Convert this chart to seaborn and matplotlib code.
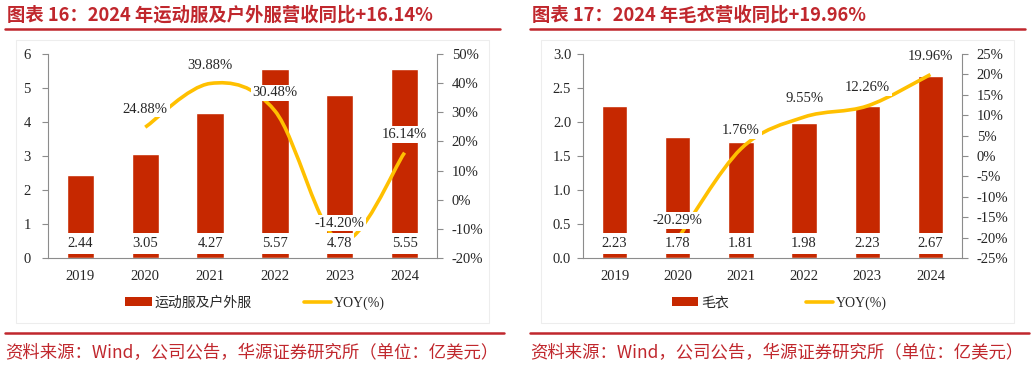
import numpy as np
import seaborn as sns
import matplotlib
matplotlib.use('Agg')
import matplotlib.pyplot as plt
import matplotlib.transforms as mtrans
from matplotlib.path import Path
from matplotlib.patches import PathPatch, Patch, Rectangle
from matplotlib.lines import Line2D

# 数据
years = ['2019', '2020', '2021', '2022', '2023', '2024']

sport_rev = [2.44, 3.05, 4.27, 5.57, 4.78, 5.55]
sport_labels = ['2.44', '3.05', '4.27', '5.57', '4.78', '5.55']
sport_yoy = [None, 24.88, 39.88, 30.48, -14.20, 16.14]

sweater_rev = [2.23, 1.78, 1.71, 1.98, 2.23, 2.67]
sweater_labels = ['2.23', '1.78', '1.81', '1.98', '2.23', '2.67']
sweater_yoy = [-20.29, 1.76, 9.55, 12.26, 19.96]
sweater_yoy_years = ['2020', '2021', '2022', '2023', '2024']

BAR = '#C62800'
GOLD = '#FFC000'
RED = '#C0272D'
TXT = '#262626'

sns.set_theme(style='white')
plt.rcParams['font.family'] = ['Liberation Serif', 'Noto Sans CJK SC']
plt.rcParams['axes.unicode_minus'] = False

W, H = 1031, 366
fig = plt.figure(figsize=(W / 100, H / 100), dpi=100)


def fx(px):
    return px / W


def fy(py):
    return 1 - py / H


def smooth_path(xs, ys, t=1 / 6):
    # Excel 风格平滑线（Catmull-Rom -> Bezier）
    pts = np.column_stack([xs, ys]).astype(float)
    n = len(pts)
    verts = [pts[0]]
    codes = [Path.MOVETO]
    for i in range(n - 1):
        p0 = pts[i - 1] if i > 0 else pts[i]
        p1, p2 = pts[i], pts[i + 1]
        p3 = pts[i + 2] if i + 2 < n else p2
        verts += [p1 + (p2 - p0) * t, p2 - (p3 - p1) * t, p2]
        codes += [Path.CURVE4] * 3
    return Path(verts, codes)


def panel(x0, x1, title, rev, rev_labels, yoy_x, yoy, ylim, yticks, yfmt,
          y2lim, y2ticks, bar_w, legend_name, leg_cx, colspace, frame, ypad):
    # 外框
    fig.add_artist(Rectangle((fx(frame[0]), fy(323)), fx(frame[1] - frame[0]),
                             (323 - 40) / H, transform=fig.transFigure,
                             fill=False, ec='#EDEDED', lw=0.8))
    # 标题与红线
    fig.text(fx(frame[0] - 9), fy(15), title, color=RED, fontsize=13.2,
             fontweight='bold', family=['Noto Sans CJK SC'], va='center')
    fig.add_artist(Line2D([fx(frame[0] - 11), fx(frame[0] + 484)], [fy(29), fy(29)],
                          transform=fig.transFigure, color=RED, lw=1.8))

    ax = fig.add_axes([fx(x0), fy(258), fx(x1 - x0), 204 / H])
    sns.barplot(x=years, y=rev, color=BAR, saturation=1, width=bar_w, ax=ax)
    ax.set_xlim(-0.5, 5.5)
    ax.set_ylim(*ylim)
    ax.set_yticks(yticks)
    ax.set_yticklabels([yfmt.format(v) for v in yticks])
    ax.set_xlabel('')
    ax.set_ylabel('')
    ax.set_xticks(range(6))
    ax.set_xticks(np.arange(-0.5, 6, 1), minor=True)
    ax.tick_params(axis='x', which='major', length=0, pad=9, labelsize=10.5, labelcolor=TXT)
    ax.tick_params(axis='x', which='minor', length=4, width=0.8, color='#8C8C8C', direction='out')
    ax.tick_params(axis='y', length=4, width=0.8, color='#8C8C8C', direction='out',
                   labelsize=10.5, labelcolor=TXT, pad=ypad, left=True)
    for s in ['top', 'right']:
        ax.spines[s].set_visible(False)
    for s in ['left', 'bottom']:
        ax.spines[s].set_color('#8C8C8C')
        ax.spines[s].set_linewidth(0.8)

    ax2 = ax.twinx()
    ax2.set_ylim(*y2lim)
    ax2.set_yticks(y2ticks)
    ax2.set_yticklabels([f'{v}%' for v in y2ticks])
    ax2.tick_params(axis='y', length=4, width=0.8, color='#8C8C8C', direction='out',
                    labelsize=10.5, labelcolor=TXT, pad=6.5, right=True)
    for s in ['top', 'left', 'bottom']:
        ax2.spines[s].set_visible(False)
    ax2.spines['right'].set_color('#8C8C8C')
    ax2.spines['right'].set_linewidth(0.8)
    ax2.grid(False)
    ax.grid(False)

    xi = [years.index(y) for y in yoy_x]
    ax2.add_patch(PathPatch(smooth_path(xi, yoy), fill=False, ec=GOLD, lw=2.6,
                            capstyle='butt', zorder=2))
    for x, v in zip(xi, yoy):
        ax2.annotate(f'{v:.2f}%', xy=(x, v), xytext=(0, 13), textcoords='offset points',
                     ha='center', va='center', fontsize=10.5, color=TXT, zorder=4,
                     bbox=dict(boxstyle='square,pad=0.12', fc='white', ec='none'))
    # 柱底部数据标签（白底）
    blend = mtrans.blended_transform_factory(ax.transData, ax.transAxes)
    for i, lab in enumerate(rev_labels):
        ax2.add_patch(Rectangle((i - bar_w / 2 - 0.01, 4 / 204), bar_w + 0.02, 21 / 204,
                                transform=blend, fc='white', ec='none', zorder=3))
        ax2.annotate(lab, xy=(i, 0), xycoords=ax.transData, xytext=(0, 10.3),
                     textcoords='offset points', ha='center', va='center',
                     fontsize=10.5, color=TXT, zorder=5)

    handles = [Patch(fc=BAR, ec='none'), Line2D([], [], color=GOLD, lw=2.6)]
    fig.legend(handles, [legend_name, 'YOY(%)'], loc='center',
               bbox_to_anchor=(fx(leg_cx), fy(303)), ncol=2, frameon=False,
               handlelength=1.9, handleheight=0.65, handletextpad=0.2,
               columnspacing=colspace,
               prop={'family': ['Liberation Serif', 'Noto Sans CJK SC'], 'size': 10})

    # 底部红线与资料来源
    fig.add_artist(Line2D([fx(frame[0] - 11), fx(frame[0] + 488)], [fy(333), fy(333)],
                          transform=fig.transFigure, color=RED, lw=1.8))
    fig.text(fx(frame[0] - 11), fy(353), '资料来源：Wind，公司公告，华源证券研究所（单位：亿美元）',
             color=RED, fontsize=12.5, family=['Noto Sans CJK SC'], va='center')


panel(48, 437, '图表 16：2024 年运动服及户外服营收同比+16.14%', sport_rev, sport_labels,
      years[1:], sport_yoy[1:], (0, 6), [0, 1, 2, 3, 4, 5, 6], '{:g}',
      (-20, 50), list(range(-20, 51, 10)), 0.42, '运动服及户外服', 255, 3.8, (16, 489), 8.5)

panel(583, 962, '图表 17：2024 年毛衣营收同比+19.96%', sweater_rev, sweater_labels,
      sweater_yoy_years, sweater_yoy, (0, 3), [0, 0.5, 1, 1.5, 2, 2.5, 3], '{:.1f}',
      (-25, 25), list(range(-25, 26, 5)), 0.40, '毛衣', 779, 5.6, (541, 1014), 4.5)

fig.savefig('out.png', dpi=100)
